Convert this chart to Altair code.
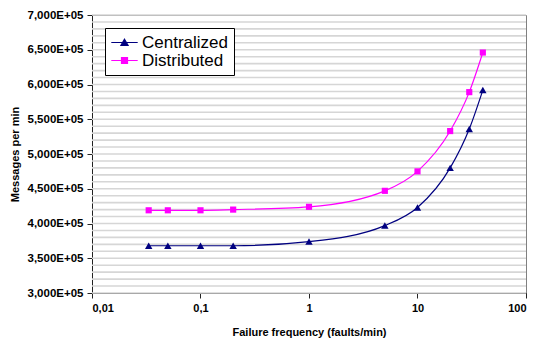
import altair as alt
import pandas as pd

# ---- data ----
freq = [0.0333, 0.05, 0.1, 0.2, 1, 5, 10, 20, 30, 40]
centralized = [3.68e5, 3.68e5, 3.68e5, 3.68e5, 3.74e5, 3.97e5, 4.23e5, 4.80e5, 5.36e5, 5.92e5]
distributed = [4.19e5, 4.19e5, 4.19e5, 4.20e5, 4.24e5, 4.47e5, 4.75e5, 5.33e5, 5.89e5, 6.46e5]
series_names = ["Centralized", "Distributed"]
series_colors = ["#000080", "#FF00FF"]
series_shapes = ["triangle-up", "square"]
series_sizes = [55, 38]
x_ticks = [0.01, 0.1, 1, 10, 100]
y_ticks = [300000, 350000, 400000, 450000, 500000, 550000, 600000, 650000, 700000]
grid_step = 10000

rows = []
for name, vals in zip(series_names, [centralized, distributed]):
    for f, v in zip(freq, vals):
        rows.append({"series": name, "freq": f, "value": v})
df = pd.DataFrame(rows)
grid_df = pd.DataFrame({"value": list(range(300000, 700001, grid_step))})
legend_df = pd.DataFrame({"series": series_names})

FONT = "Liberation Sans"

x_enc = alt.X(
    "freq:Q",
    scale=alt.Scale(type="log", domain=[0.01, 100], nice=False),
    axis=alt.Axis(
        values=x_ticks,
        labelExpr="replace(toString(datum.value), '.', ',')",
        title="Failure frequency (faults/min)",
        grid=False,
        tickSize=5,
        labelPadding=4,
        titlePadding=13,
    ),
)
y_scale = alt.Scale(domain=[300000, 700000], nice=False, zero=False)
y_axis = alt.Axis(
    values=y_ticks,
    labelExpr="replace(format(datum.value/100000, '.3f'), '.', ',') + 'E+05'",
    title="Messages per min",
    grid=False,
    tickSize=5,
    labelPadding=4,
    titlePadding=7,
    labelFontSize=11.5,
)
y_enc = alt.Y("value:Q", scale=y_scale, axis=y_axis)

layers = [
    alt.Chart(grid_df).mark_rule(color="#d6d6d6", strokeWidth=1.6).encode(
        y=alt.Y("value:Q", scale=y_scale, axis=y_axis)
    )
]

for name, col, shp, sz in zip(series_names, series_colors, series_shapes, series_sizes):
    base = alt.Chart(df).transform_filter(alt.datum.series == name)
    layers.append(base.mark_line(interpolate="monotone", strokeWidth=1.2, color=col).encode(x=x_enc, y=y_enc))
    layers.append(base.mark_point(shape=shp, filled=True, size=sz, color=col, opacity=1).encode(x=x_enc, y=y_enc))

tri_path = "M-2.2,0H2.2M0,-0.55L0.6,0.5H-0.6Z"
sq_path = "M-2.2,0H2.2M-0.5,-0.5H0.5V0.5H-0.5Z"

leg = alt.Legend(
    title=None,
    orient="none",
    legendX=13,
    legendY=13,
    fillColor="white",
    strokeColor="black",
    padding=6,
    symbolSize=144,
    symbolStrokeWidth=1.2,
    symbolOpacity=1,
    symbolOffset=5,
    labelOffset=9,
    rowPadding=0,
    labelFontSize=17,
    labelFont=FONT,
    labelColor="black",
    labelLimit=300,
)

layers.append(
    alt.Chart(legend_df).mark_point(filled=True, size=144, opacity=0).encode(
        shape=alt.Shape("series:N", scale=alt.Scale(domain=series_names, range=[tri_path, sq_path]), legend=leg),
        fill=alt.Fill("series:N", scale=alt.Scale(domain=series_names, range=series_colors), legend=leg),
        stroke=alt.Stroke("series:N", scale=alt.Scale(domain=series_names, range=series_colors), legend=leg),
    )
)

chart = alt.layer(*layers).properties(
    width=434,
    height=278,
    autosize=alt.AutoSizeParams(type="none"),
    padding={"left": 84, "top": 7, "right": 2, "bottom": 47},
    background="white",
).configure_view(
    stroke="#808080", strokeWidth=1
).configure_axis(
    labelFont=FONT,
    labelFontSize=11,
    labelFontWeight="bold",
    labelColor="black",
    titleFont=FONT,
    titleFontSize=11,
    titleFontWeight="bold",
    titleColor="black",
    domainColor="#222222",
    tickColor="#222222",
    domainWidth=1,
)

chart.save("out.html", embed_options={"renderer": "svg", "actions": False})
